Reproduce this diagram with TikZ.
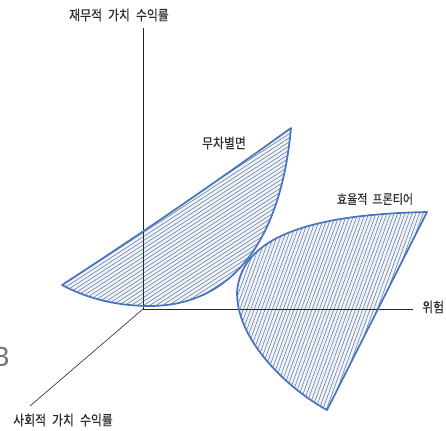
\documentclass[tikz,border=0pt]{standalone}
\usepackage{fontspec}
\newfontfamily\kr[FakeStretch=0.85,FakeBold=0.3]{Noto Sans CJK KR}
\newfontfamily\latinsans{Noto Sans}
\definecolor{edgeblue}{RGB}{70,116,190}
\definecolor{hatchgray}{RGB}{100,112,135}
\definecolor{fillblue}{RGB}{236,243,251}
\definecolor{txtgray}{RGB}{45,45,45}
\newcommand{\wsp}{\hspace{6pt}}
\tikzset{
  axis/.style={draw=black!85, line width=0.6pt},
  rim/.style={draw=edgeblue, line width=1.7pt, line join=round},
  hatchline/.style={draw=hatchgray, line width=0.5pt},
  lbl/.style={font=\kr\fontsize{14}{16}\selectfont, text=txtgray, inner sep=0pt}
}
\begin{document}
\begin{tikzpicture}[x=1pt,y=-1pt]
\useasboundingbox (0,0) rectangle (446,430);
% named points
\coordinate (O) at (143,309);
\coordinate (Ytop) at (143,28);
\coordinate (Xend) at (413,309);
\coordinate (Zend) at (30,406);
\coordinate (LA) at (62,285);
\coordinate (LB) at (150,306);
\coordinate (LT) at (291,128);
\coordinate (RR) at (427,212);
\coordinate (RB) at (327,410);
\coordinate (RL) at (237,293);
\def\leftshape{(LA) .. controls (150,228) and (230,172) .. (LT) .. controls (280,250) and (225,306) .. (LB) .. controls (120,306) and (90,300) .. (LA) -- cycle}
\def\rightshape{(RB) -- (RR) .. controls (330,214) and (240,230) .. (RL) .. controls (237,342) and (290,390) .. (RB) -- cycle}
% left surface
\fill[fillblue] \leftshape;
\begin{scope}
\clip \leftshape;
\foreach \k in {-60,...,60}
  \draw[hatchline] (180,225) ++({\k*3.4*sin(33)},{\k*3.4*cos(33)}) ++({-300*cos(33)},{300*sin(33)}) -- ++({600*cos(33)},{-600*sin(33)});
\end{scope}
% right surface
\fill[fillblue] \rightshape;
\begin{scope}
\clip \rightshape;
\foreach \k in {-60,...,60}
  \draw[hatchline] (330,310) ++({\k*3.4*sin(70)},{\k*3.4*cos(70)}) ++({-300*cos(70)},{300*sin(70)}) -- ++({600*cos(70)},{-600*sin(70)});
\end{scope}
% axes
\draw[axis] (O) -- (Ytop);
\draw[axis] (O) -- (Xend);
\draw[axis] (O) -- (Zend);
% rims
\draw[rim] \leftshape;
\draw[rim] \rightshape;
% labels
\node[lbl] (ylab) at (119,15) {재무적\wsp 가치\wsp 수익률};
\node[lbl, anchor=west] (xlab) at (422,307) {위험};
\node[lbl] (zlab) at (63,420) {사회적\wsp 가치\wsp 수익률};
\node[lbl] (ind) at (224,143) {무차별면};
\node[lbl, font=\kr\fontsize{13}{15}\selectfont] (eff) at (375,199) {효율적\hspace{5pt}프론티어};
\node[font=\latinsans\fontsize{27}{27}\selectfont, text=black!55, anchor=east, inner sep=0pt] (bmark) at (10,357) {B};
\end{tikzpicture}
\end{document}
